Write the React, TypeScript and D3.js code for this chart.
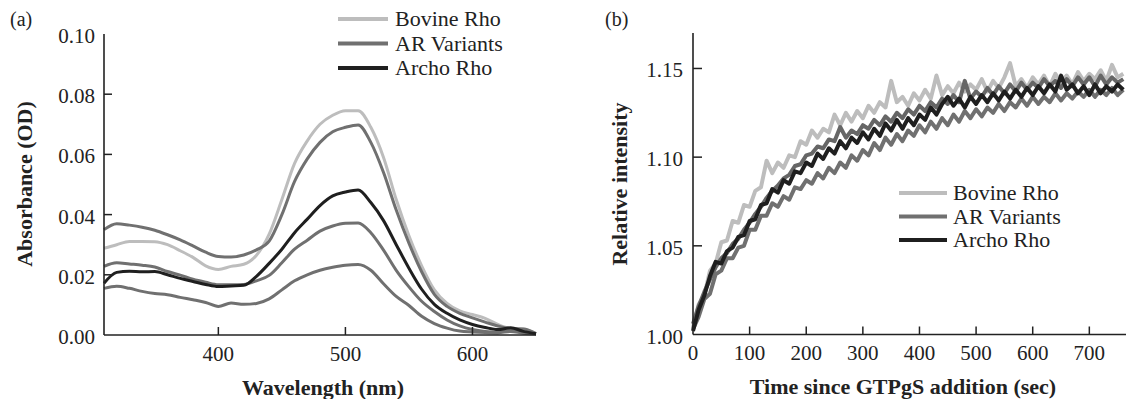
import React from "react";
import * as d3 from "d3";

// ---------- Panel (a): absorbance spectra ----------
const wavelengths = [310, 320, 330, 340, 350, 360, 370, 380, 390, 400, 410, 420, 430, 440, 450, 460, 470, 480, 490, 500, 510, 520, 530, 540, 550, 560, 570, 580, 590, 600, 610, 620, 630, 640, 650];
const bovineAbs = [0.0288, 0.0300, 0.0311, 0.0311, 0.0310, 0.0300, 0.0280, 0.0258, 0.0230, 0.0218, 0.0228, 0.0235, 0.0265, 0.0335, 0.0450, 0.0570, 0.0645, 0.0700, 0.0730, 0.0745, 0.0745, 0.0690, 0.0590, 0.0450, 0.0330, 0.0230, 0.0150, 0.0105, 0.0080, 0.0068, 0.0055, 0.0035, 0.0022, 0.0020, 0.0005];
const arAbs1 = [0.0350, 0.0370, 0.0365, 0.0358, 0.0348, 0.0333, 0.0316, 0.0296, 0.0275, 0.0261, 0.0259, 0.0266, 0.0283, 0.0312, 0.0400, 0.0510, 0.0585, 0.0640, 0.0675, 0.0690, 0.0698, 0.0640, 0.0540, 0.0415, 0.0305, 0.0210, 0.0135, 0.0095, 0.0072, 0.0057, 0.0043, 0.0030, 0.0021, 0.0020, 0.0005];
const arAbs2 = [0.0228, 0.0240, 0.0236, 0.0232, 0.0226, 0.0211, 0.0199, 0.0185, 0.0175, 0.0167, 0.0167, 0.0168, 0.0180, 0.0198, 0.0240, 0.0285, 0.0315, 0.0345, 0.0362, 0.0371, 0.0372, 0.0340, 0.0282, 0.0215, 0.0160, 0.0112, 0.0078, 0.0050, 0.0030, 0.0018, 0.0012, 0.0010, 0.0015, 0.0008, 0.0004];
const arAbs3 = [0.0155, 0.0162, 0.0155, 0.0145, 0.0138, 0.0134, 0.0125, 0.0117, 0.0108, 0.0095, 0.0106, 0.0102, 0.0105, 0.0120, 0.0150, 0.0180, 0.0200, 0.0215, 0.0225, 0.0232, 0.0234, 0.0215, 0.0170, 0.0128, 0.0098, 0.0062, 0.0038, 0.0023, 0.0013, 0.0010, 0.0008, 0.0007, 0.0012, 0.0006, 0.0004];
const archoAbs = [0.0172, 0.0208, 0.0212, 0.0210, 0.0211, 0.0200, 0.0188, 0.0178, 0.0168, 0.0161, 0.0163, 0.0165, 0.0195, 0.0238, 0.0285, 0.0340, 0.0385, 0.0430, 0.0462, 0.0475, 0.0482, 0.0440, 0.0380, 0.0300, 0.0222, 0.0152, 0.0102, 0.0072, 0.0050, 0.0035, 0.0025, 0.0018, 0.0024, 0.0012, 0.0004];
const absTicks = [0.0, 0.02, 0.04, 0.06, 0.08, 0.1];
const wlTicks = [400, 500, 600];

// ---------- Panel (b): GTPgS kinetics ----------
const times = [0, 10, 20, 30, 40, 50, 60, 70, 80, 90, 100, 110, 120, 130, 140, 150, 160, 170, 180, 190, 200, 210, 220, 230, 240, 250, 260, 270, 280, 290, 300, 310, 320, 330, 340, 350, 360, 370, 380, 390, 400, 410, 420, 430, 440, 450, 460, 470, 480, 490, 500, 510, 520, 530, 540, 550, 560, 570, 580, 590, 600, 610, 620, 630, 640, 650, 660, 670, 680, 690, 700, 710, 720, 730, 740, 750, 760];
const bovineKin = [1.004, 1.017, 1.022, 1.036, 1.040, 1.052, 1.053, 1.064, 1.063, 1.073, 1.072, 1.081, 1.083, 1.098, 1.091, 1.097, 1.094, 1.101, 1.100, 1.109, 1.107, 1.115, 1.111, 1.116, 1.114, 1.124, 1.118, 1.125, 1.120, 1.126, 1.122, 1.129, 1.125, 1.131, 1.128, 1.143, 1.131, 1.134, 1.129, 1.136, 1.132, 1.138, 1.133, 1.146, 1.135, 1.140, 1.136, 1.142, 1.137, 1.141, 1.138, 1.144, 1.137, 1.143, 1.139, 1.145, 1.153, 1.140, 1.144, 1.139, 1.145, 1.141, 1.146, 1.140, 1.147, 1.142, 1.146, 1.141, 1.148, 1.143, 1.147, 1.144, 1.149, 1.143, 1.152, 1.145, 1.147];
const arKin1 = [1.006, 1.016, 1.024, 1.031, 1.038, 1.043, 1.046, 1.051, 1.054, 1.059, 1.063, 1.068, 1.072, 1.077, 1.081, 1.084, 1.088, 1.090, 1.095, 1.096, 1.101, 1.102, 1.106, 1.105, 1.110, 1.109, 1.117, 1.111, 1.115, 1.113, 1.118, 1.116, 1.121, 1.118, 1.123, 1.120, 1.125, 1.122, 1.127, 1.124, 1.129, 1.126, 1.131, 1.128, 1.133, 1.130, 1.135, 1.131, 1.143, 1.133, 1.137, 1.134, 1.139, 1.135, 1.140, 1.136, 1.141, 1.137, 1.142, 1.138, 1.142, 1.139, 1.144, 1.140, 1.143, 1.139, 1.144, 1.140, 1.145, 1.141, 1.145, 1.140, 1.146, 1.141, 1.145, 1.142, 1.144];
const arKin2 = [1.003, 1.010, 1.020, 1.023, 1.034, 1.036, 1.043, 1.043, 1.049, 1.050, 1.059, 1.059, 1.067, 1.067, 1.074, 1.072, 1.078, 1.076, 1.083, 1.082, 1.087, 1.085, 1.091, 1.088, 1.094, 1.091, 1.097, 1.094, 1.101, 1.098, 1.104, 1.101, 1.108, 1.104, 1.111, 1.107, 1.113, 1.109, 1.115, 1.112, 1.118, 1.114, 1.120, 1.116, 1.122, 1.118, 1.124, 1.120, 1.126, 1.122, 1.127, 1.123, 1.128, 1.125, 1.130, 1.126, 1.131, 1.128, 1.133, 1.129, 1.134, 1.130, 1.134, 1.131, 1.136, 1.132, 1.136, 1.133, 1.137, 1.134, 1.138, 1.134, 1.138, 1.135, 1.139, 1.135, 1.138];
const archoKin = [1.002, 1.014, 1.022, 1.033, 1.041, 1.040, 1.047, 1.049, 1.055, 1.056, 1.064, 1.065, 1.073, 1.074, 1.082, 1.080, 1.087, 1.085, 1.092, 1.091, 1.097, 1.095, 1.102, 1.099, 1.105, 1.102, 1.109, 1.105, 1.111, 1.108, 1.114, 1.110, 1.116, 1.112, 1.119, 1.115, 1.121, 1.116, 1.122, 1.118, 1.124, 1.121, 1.128, 1.124, 1.130, 1.134, 1.129, 1.133, 1.128, 1.134, 1.130, 1.135, 1.131, 1.136, 1.132, 1.137, 1.133, 1.138, 1.134, 1.139, 1.135, 1.140, 1.136, 1.141, 1.137, 1.146, 1.138, 1.141, 1.136, 1.140, 1.135, 1.141, 1.136, 1.140, 1.137, 1.141, 1.138];
const intTicks = [1.0, 1.05, 1.1, 1.15];
const timeTicks = [0, 100, 200, 300, 400, 500, 600, 700];

const legendLabels = ["Bovine Rho", "AR Variants", "Archo Rho"];

const C_LIGHT = "#bdbdbd";
const C_MID = "#707070";
const C_DARK = "#1f1f1f";
const AXIS = "#222";
const FONT = "'Liberation Serif', 'Times New Roman', serif";

export default function App() {
  // Panel a scales
  const xa = d3.scaleLinear().domain([310, 650]).range([104, 536]);
  const ya = d3.scaleLinear().domain([0, 0.1]).range([335, 34]);
  const lineA = (vals: number[]) =>
    d3.line<number>().x((_, i) => xa(wavelengths[i])).y((d) => ya(d)).curve(d3.curveMonotoneX)(vals) || "";

  // Panel b scales
  const xb = d3.scaleLinear().domain([0, 763]).range([693, 1125]);
  const yb = d3.scaleLinear().domain([1.0, 1.17]).range([334.5, 33]);
  const lineB = (vals: number[]) =>
    d3.line<number>().x((_, i) => xb(times[i])).y((d) => yb(d))(vals) || "";

  const seriesA = [
    { vals: bovineAbs, color: C_LIGHT },
    { vals: arAbs1, color: C_MID },
    { vals: arAbs2, color: C_MID },
    { vals: arAbs3, color: C_MID },
    { vals: archoAbs, color: C_DARK },
  ];
  const seriesB = [
    { vals: bovineKin, color: C_LIGHT },
    { vals: arKin1, color: "#666" },
    { vals: arKin2, color: C_MID },
    { vals: archoKin, color: C_DARK },
  ];
  const legendColors = [C_LIGHT, C_MID, C_DARK];

  const legend = (x0: number, x1: number, tx: number, y0: number, dy: number) =>
    legendLabels.map((lab, i) => (
      <g key={lab}>
        <line x1={x0} x2={x1} y1={y0 + i * dy} y2={y0 + i * dy} stroke={legendColors[i]} strokeWidth={4} />
        <text x={tx} y={y0 + i * dy + 7} fontSize={22} fill="#222">{lab}</text>
      </g>
    ));

  return (
    <svg width={1126} height={399} style={{ position: "absolute", left: 0, top: 0 }} fontFamily={FONT}>
      <rect width={1126} height={399} fill="#fff" />
      {/* Panel a */}
      <text x={10} y={26} fontSize={20} fill="#222">(a)</text>
      {seriesA.map((s, i) => (
        <path key={i} d={lineA(s.vals)} fill="none" stroke={s.color} strokeWidth={3} strokeLinejoin="round" />
      ))}
      <line x1={xa(310)} x2={xa(310)} y1={ya(0.1)} y2={ya(0)} stroke={AXIS} strokeWidth={1.6} />
      <line x1={xa(310)} x2={xa(650)} y1={ya(0)} y2={ya(0)} stroke={AXIS} strokeWidth={1.6} />
      {absTicks.map((t) => (
        <g key={t}>
          {t > 0 && t < 0.1 && <line x1={xa(310)} x2={xa(310) + 8} y1={ya(t)} y2={ya(t)} stroke={AXIS} strokeWidth={1.5} />}
          <text x={95} y={ya(t) + 9} fontSize={21} textAnchor="end" fill="#222">{t.toFixed(2)}</text>
        </g>
      ))}
      {wlTicks.map((t) => (
        <g key={t}>
          <line x1={xa(t)} x2={xa(t)} y1={ya(0)} y2={ya(0) - 8} stroke={AXIS} strokeWidth={1.5} />
          <text x={xa(t)} y={361} fontSize={21} textAnchor="middle" fill="#222">{t}</text>
        </g>
      ))}
      <text x={323} y={395} fontSize={22} fontWeight="bold" textAnchor="middle" fill="#222">Wavelength (nm)</text>
      <text transform="translate(32,184) rotate(-90)" fontSize={22} fontWeight="bold" textAnchor="middle" fill="#222">Absorbance (OD)</text>
      {legend(338, 388, 395, 19, 24.5)}

      {/* Panel b */}
      <text x={605} y={26} fontSize={20} fill="#222">(b)</text>
      {seriesB.map((s, i) => (
        <path key={i} d={lineB(s.vals)} fill="none" stroke={s.color} strokeWidth={4} strokeLinejoin="round" />
      ))}
      <line x1={xb(0)} x2={xb(0)} y1={yb(1.17)} y2={yb(1.0)} stroke={AXIS} strokeWidth={1.6} />
      <line x1={xb(0)} x2={1126} y1={yb(1.0)} y2={yb(1.0)} stroke={AXIS} strokeWidth={1.6} />
      {intTicks.map((t) => (
        <g key={t}>
          {t > 1.0 && <line x1={xb(0)} x2={xb(0) + 9} y1={yb(t)} y2={yb(t)} stroke={AXIS} strokeWidth={1.5} />}
          <text x={683} y={yb(t) + 9} fontSize={21} textAnchor="end" fill="#222">{t.toFixed(2)}</text>
        </g>
      ))}
      {timeTicks.map((t) => (
        <g key={t}>
          {t > 0 && <line x1={xb(t)} x2={xb(t)} y1={yb(1.0)} y2={yb(1.0) - 8} stroke={AXIS} strokeWidth={1.5} />}
          <text x={xb(t)} y={360} fontSize={21} textAnchor="middle" fill="#222">{t}</text>
        </g>
      ))}
      <text x={903} y={394} fontSize={22} fontWeight="bold" textAnchor="middle" fill="#222">Time since GTPgS addition (sec)</text>
      <text transform="translate(627,184) rotate(-90)" fontSize={22} fontWeight="bold" textAnchor="middle" fill="#222">Relative intensity</text>
      {legend(899, 947, 953, 193, 23.5)}
    </svg>
  );
}
